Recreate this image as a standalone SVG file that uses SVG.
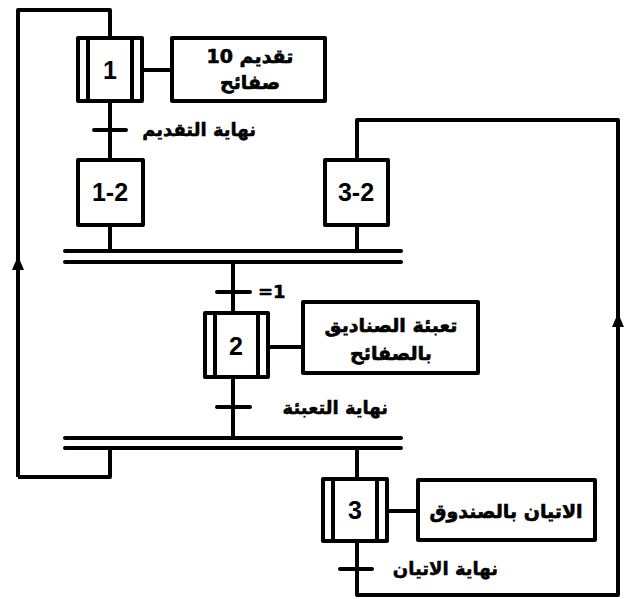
<svg xmlns="http://www.w3.org/2000/svg" width="629" height="599" viewBox="0 0 629 599">
<defs>
<style>
.ln{fill:none;stroke:#000;stroke-width:4;stroke-linejoin:round}
.bar{stroke:#000;stroke-width:4;stroke-linecap:round}
.box{fill:#fff;stroke:#000;stroke-width:4;stroke-linejoin:round}
.inr{stroke:#000;stroke-width:4}
.num{font-family:"Liberation Sans",Arial,sans-serif;font-weight:bold;font-size:25px;text-anchor:middle}
.ar{font-family:"DejaVu Sans",sans-serif;font-weight:bold;font-size:19px;text-anchor:middle;stroke:#000;stroke-width:0.6}
.lbl{font-family:"DejaVu Sans",sans-serif;font-weight:bold;font-size:18px;text-anchor:start;stroke:#000;stroke-width:0.5}
</style>
</defs>
<rect width="629" height="599" fill="#fff"/>
<g id="connectors">
<path class="ln" d="M18,477 L18,262"/>
<path class="ln" d="M18,264 L18,10 L110,10 L110,38"/>
<path d="M12,270 L18,256 L24,270 Z" fill="#000"/>
<path class="ln" d="M18,477 L110,477 L110,448"/>
<path class="ln" d="M110,101 L110,160"/>
<path class="ln" d="M110,225 L110,251"/>
<path class="ln" d="M357,251 L357,225"/>
<path class="ln" d="M357,160 L357,120 L618,120 L618,595 L357,595 L357,541"/>
<path d="M612,327 L618,313 L624,327 Z" fill="#000"/>
<path class="ln" d="M233,262 L233,313"/>
<path class="ln" d="M233,377 L233,438"/>
<path class="ln" d="M357,448 L357,479"/>
<line class="bar" x1="65" y1="251" x2="401" y2="251"/>
<line class="bar" x1="65" y1="262" x2="401" y2="262"/>
<line class="bar" x1="65" y1="438" x2="401" y2="438"/>
<line class="bar" x1="65" y1="448" x2="401" y2="448"/>
<line class="bar" x1="94" y1="130" x2="126" y2="130"/>
<line class="bar" x1="217" y1="292" x2="250" y2="292"/>
<line class="bar" x1="217" y1="407" x2="250" y2="407"/>
<line class="bar" x1="340" y1="569" x2="372" y2="569"/>
<line class="ln" x1="142" y1="70" x2="172" y2="70"/>
<line class="ln" x1="268" y1="347" x2="303" y2="347"/>
<line class="ln" x1="387" y1="511" x2="418" y2="511"/>
</g>
<g id="t1"><text class="lbl" x="256" y="136" direction="rtl">نهاية التقديم</text></g>
<g id="t2"><text class="lbl" x="258" y="298" font-family="Liberation Sans" stroke-width="0.3">=1</text></g>
<g id="t3"><text class="lbl" x="388" y="414" direction="rtl">نهاية التعبئة</text></g>
<g id="t4"><text class="lbl" x="498" y="575" direction="rtl">نهاية الاتيان</text></g>
<g id="step1">
<rect class="box" x="78" y="38" width="64" height="63"/>
<line class="inr" x1="88" y1="38" x2="88" y2="101"/>
<line class="inr" x1="132" y1="38" x2="132" y2="101"/>
<text class="num" x="110" y="79">1</text>
</g>
<g id="action1">
<rect class="box" x="172" y="38" width="153" height="63"/>
<text class="ar" x="250" y="63" direction="rtl">تقديم 10</text>
<text class="ar" x="250" y="89" direction="rtl">صفائح</text>
</g>
<g id="step12">
<rect class="box" x="78" y="160" width="65" height="65"/>
<text class="num" x="110" y="201" font-size="23">1-2</text>
</g>
<g id="step32">
<rect class="box" x="325" y="160" width="63" height="65"/>
<text class="num" x="356" y="201" font-size="23">3-2</text>
</g>
<g id="step2">
<rect class="box" x="205" y="313" width="63" height="64"/>
<line class="inr" x1="215" y1="313" x2="215" y2="377"/>
<line class="inr" x1="258" y1="313" x2="258" y2="377"/>
<text class="num" x="236" y="355">2</text>
</g>
<g id="action2">
<rect class="box" x="303" y="302" width="175" height="71"/>
<text class="ar" x="391" y="332" direction="rtl">تعبئة الصناديق</text>
<text class="ar" x="391" y="360" direction="rtl">بالصفائح</text>
</g>
<g id="step3">
<rect class="box" x="323" y="479" width="64" height="62"/>
<line class="inr" x1="333" y1="479" x2="333" y2="541"/>
<line class="inr" x1="377" y1="479" x2="377" y2="541"/>
<text class="num" x="355" y="519">3</text>
</g>
<g id="action3">
<rect class="box" x="418" y="480" width="177" height="60"/>
<text class="ar" x="506" y="518" direction="rtl">الاتيان بالصندوق</text>
</g>
</svg>
